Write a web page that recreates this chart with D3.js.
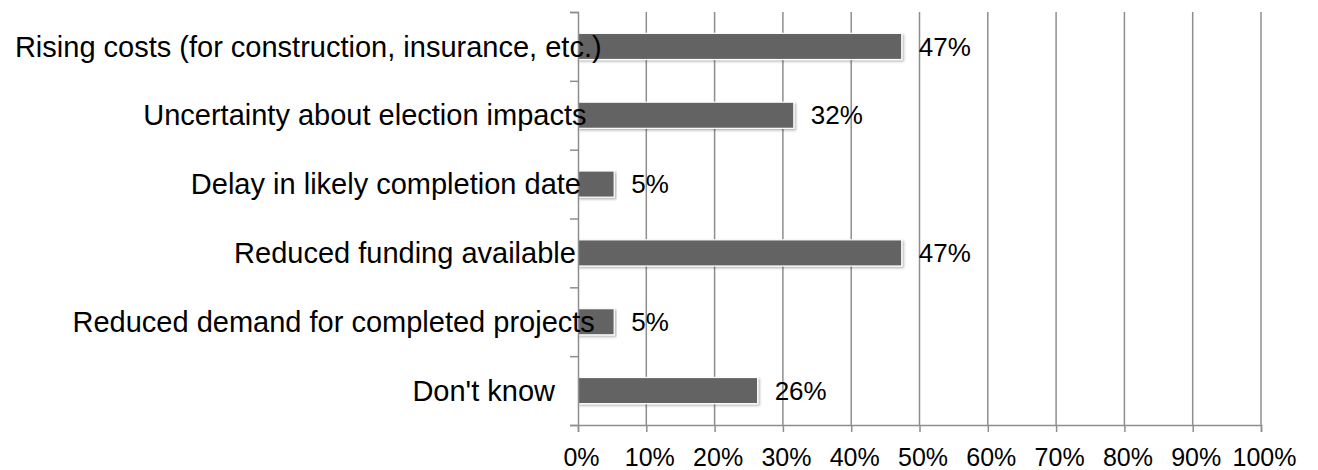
<!DOCTYPE html>
<html>
<head>
<meta charset="utf-8">
<script src="https://cdn.jsdelivr.net/npm/d3@7"></script>
<style>
    body { margin: 0; background: #fff; }
    text { font-family: "Liberation Sans", Arial, sans-serif; fill: #000; }
</style>
</head>
<body>
<svg id="chart" width="1318" height="470"></svg>
<script>
const categories = [
    "Rising costs (for construction, insurance, etc.)",
    "Uncertainty about election impacts",
    "Delay in likely completion date",
    "Reduced funding available",
    "Reduced demand for completed projects",
    "Don't know"
];
const values = [47.4, 31.6, 5.3, 47.4, 5.3, 26.3];
const valueLabels = ["47%", "32%", "5%", "47%", "5%", "26%"];
const tickValues = [0, 10, 20, 30, 40, 50, 60, 70, 80, 90, 100];
const tickLabels = ["0%", "10%", "20%", "30%", "40%", "50%", "60%", "70%", "80%", "90%", "100%"];

const svg = d3.select("#chart");
const gridColor = "#8e8e8e";
const plotTop = 12, plotBottom = 425, plotLeft = 578, plotRight = 1261;

const x = d3.scaleLinear().domain([0, 100]).range([plotLeft, plotRight]);
const y = d3.scaleBand().domain(categories).range([plotTop, plotBottom]);
const yIdx = d3.scaleLinear().domain([0, categories.length]).range([plotTop, plotBottom]);

const defs = svg.append("defs");
const shadow = defs.append("filter").attr("id", "shadow")
    .attr("x", "-5%").attr("y", "-20%").attr("width", "110%").attr("height", "160%");
shadow.append("feDropShadow").attr("dx", 1.5).attr("dy", 1.5).attr("stdDeviation", 1)
    .attr("flood-color", "#000").attr("flood-opacity", 0.3);

// vertical gridlines
svg.append("g").selectAll("line")
    .data(tickValues.slice(1))
    .enter().append("line")
    .attr("x1", d => x(d)).attr("x2", d => x(d))
    .attr("y1", plotTop).attr("y2", plotBottom)
    .attr("stroke", gridColor).attr("stroke-width", 1.5);

// bars
const barH = y.bandwidth() * 0.38;
svg.append("g").selectAll("rect")
    .data(values)
    .enter().append("rect")
    .attr("x", x(0))
    .attr("y", (d, i) => y(categories[i]) + (y.bandwidth() - barH) / 2)
    .attr("width", d => x(d) - x(0))
    .attr("height", barH)
    .attr("fill", "#636363")
    .attr("stroke", "#fff")
    .attr("stroke-width", 1.2)
    .attr("filter", "url(#shadow)");

// x axis
const xAxis = svg.append("g")
    .attr("transform", "translate(0," + plotBottom + ")")
    .call(d3.axisBottom(x).tickValues(tickValues).tickSize(7).tickPadding(16)
        .tickFormat((d, i) => tickLabels[i]));
xAxis.select(".domain").attr("stroke", gridColor).attr("stroke-width", 1.5);
xAxis.selectAll(".tick line").attr("stroke", gridColor).attr("stroke-width", 1.5);
xAxis.selectAll(".tick text")
    .attr("fill", "#000").attr("dx", 3)
    .style("font-size", "25px").style("font-family", "Liberation Sans, Arial, sans-serif");

// y axis (ticks between categories)
const yAxis = svg.append("g")
    .attr("transform", "translate(" + plotLeft + ",0)")
    .call(d3.axisLeft(yIdx).tickValues(d3.range(categories.length + 1)).tickSize(8).tickFormat(""));
yAxis.select(".domain").attr("stroke", gridColor).attr("stroke-width", 1.5);
yAxis.selectAll(".tick line").attr("stroke", gridColor).attr("stroke-width", 1.5);

// category labels: long ones spill a bit past the axis, like the original
svg.append("g").selectAll("text")
    .data(categories)
    .enter().append("text")
    .attr("y", d => y(d) + y.bandwidth() / 2)
    .attr("dy", "0.35em")
    .style("font-size", "29px")
    .text(d => d)
    .attr("x", function () {
        const w = this.getComputedTextLength();
        return 540 - 0.895 * w;
    });

// value labels
svg.append("g").selectAll("text")
    .data(values)
    .enter().append("text")
    .attr("x", d => x(d) + 17)
    .attr("y", (d, i) => y(categories[i]) + y.bandwidth() / 2)
    .attr("dy", "0.35em")
    .style("font-size", "26px")
    .text((d, i) => valueLabels[i]);
</script>
</body>
</html>
